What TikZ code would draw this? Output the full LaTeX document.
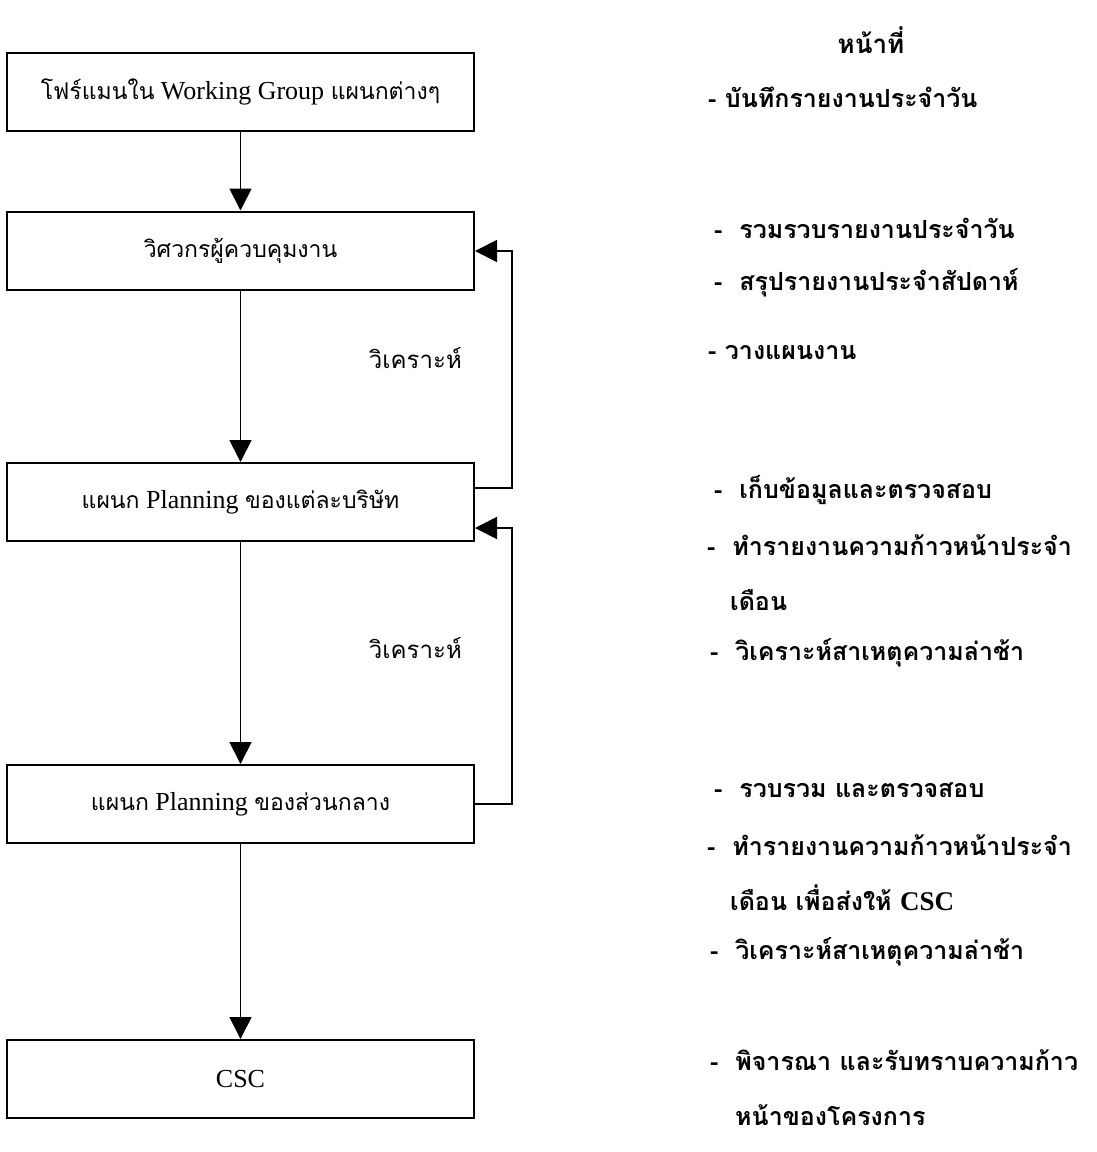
\documentclass[tikz,border=0pt]{standalone}
\usepackage{fontspec}
\setmainfont{Liberation Serif}
\newfontfamily\thai[Script=Thai]{Loma}
\usetikzlibrary{arrows.meta}
\newcommand{\bt}{\thai\fontsize{23}{27}\selectfont}
\tikzset{
  box/.style={draw, line width=2pt, minimum width=467pt, minimum height=78pt, inner sep=0pt, font=\fontsize{26}{30}\selectfont},
  flow/.style={line width=1.8pt, -{Triangle[length=22pt,width=22pt]}},
  duty/.style={anchor=west, inner sep=0pt, font=\thai\bfseries\fontsize{25}{29}\selectfont},
  lbl/.style={anchor=east, inner sep=0pt, font=\thai\fontsize{24}{28}\selectfont}
}
\begin{document}
\begin{tikzpicture}[x=1pt,y=-1pt]
\useasboundingbox[fill=white] (0,0) rectangle (1096,1152);
\node[box] (b1) at (240.5,92) {{\bt โฟร์แมนใน} Working Group {\bt แผนกต่างๆ}};
\node[box] (b2) at (240.5,250.5) {\bt วิศวกรผู้ควบคุมงาน};
\node[box] (b3) at (240.5,502) {{\bt แผนก} Planning {\bt ของแต่ละบริษัท}};
\node[box] (b4) at (240.5,804) {{\bt แผนก} Planning {\bt ของส่วนกลาง}};
\node[box] (b5) at (240.5,1079) {CSC};
\draw[flow] (b1.south) -- (b2.north);
\draw[flow] (b2.south) -- (b3.north);
\draw[flow] (b3.south) -- (b4.north);
\draw[flow] (b4.south) -- (b5.north);
\coordinate (f1a) at (512,488);
\coordinate (f1b) at (512,251);
\coordinate (f2a) at (512,804);
\coordinate (f2b) at (512,528);
\draw[flow] (b3.east |- f1a) -- (f1a) -- (f1b) -- (b2.east |- f1b);
\draw[flow] (b4.east |- f2a) -- (f2a) -- (f2b) -- (b3.east |- f2b);
\node[lbl] (l1) at (462,358) {วิเคราะห์};
\node[lbl] (l2) at (462,648) {วิเคราะห์};
\node[anchor=center, inner sep=0pt, font=\thai\bfseries\fontsize{26}{30}\selectfont] (h) at (871,40) {หน้าที่};
\node[duty] (d1) at (708,97) {- บันทึกรายงานประจำวัน};
\node[duty] (d2) at (714,228) {-\ \ รวมรวบรายงานประจำวัน};
\node[duty] (d3) at (714,283) {-\ \ สรุปรายงานประจำสัปดาห์};
\node[duty] (d4) at (708,353) {- วางแผนงาน};
\node[duty] (d5) at (714,490) {-\ \ เก็บข้อมูลและตรวจสอบ};
\node[duty] (d6) at (707,545) {-\ \ ทำรายงานความก้าวหน้าประจำ};
\node[duty] (d7) at (730,600) {เดือน};
\node[duty] (d8) at (710,653) {-\ \ วิเคราะห์สาเหตุความล่าช้า};
\node[duty] (d9) at (714,790) {-\ \ รวบรวม และตรวจสอบ};
\node[duty] (d10) at (707,845) {-\ \ ทำรายงานความก้าวหน้าประจำ};
\node[duty] (d11) at (730,898) {เดือน เพื่อส่งให้ {\rmfamily\bfseries\fontsize{27}{31}\selectfont CSC}};
\node[duty] (d12) at (710,952) {-\ \ วิเคราะห์สาเหตุความล่าช้า};
\node[duty] (d13) at (710,1060) {-\ \ พิจารณา และรับทราบความก้าว};
\node[duty] (d14) at (735,1115) {หน้าของโครงการ};
\end{tikzpicture}
\end{document}
